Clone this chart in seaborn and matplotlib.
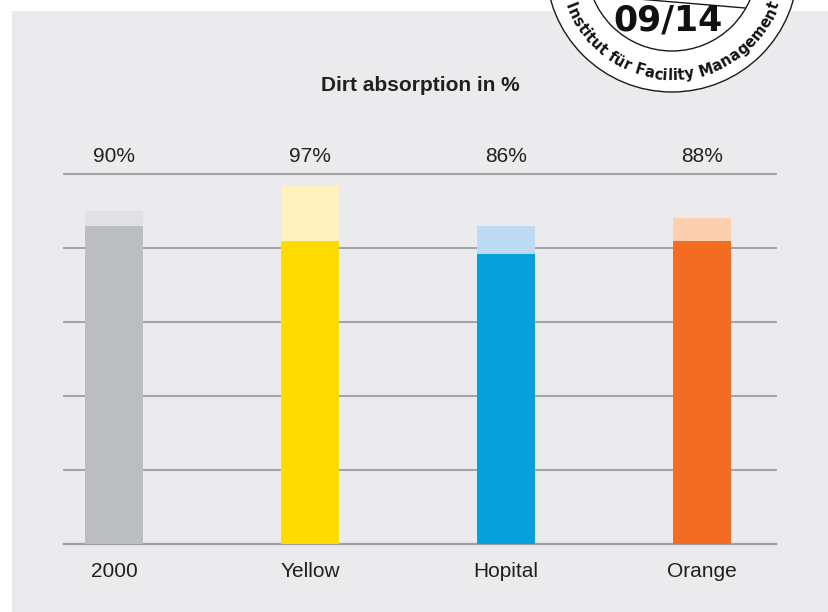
import numpy as np
import pandas as pd
import seaborn as sns
import matplotlib.pyplot as plt
from matplotlib.patches import Rectangle, Circle
from matplotlib.font_manager import FontProperties
from matplotlib.textpath import text_to_path

# data
categories = ["2000", "Yellow", "Hopital", "Orange"]
total_values = [90, 97, 86, 88]      # light part = labelled value
base_values = [86, 82, 78.5, 82]     # dark part of each bar
value_labels = ["90%", "97%", "86%", "88%"]

dark_colors = ["#bcbdc0", "#ffdc00", "#06a1dc", "#f46c22"]
light_colors = ["#e0e1e3", "#fff2c0", "#bddbf2", "#fccfae"]

df = pd.DataFrame({"Category": categories, "Total": total_values, "Base": base_values})

W, H = 829, 612
fig = plt.figure(figsize=(W / 100, H / 100), dpi=100)
fig.patch.set_facecolor("white")

# background layer in pixel coordinates: grey panel + stamp
bg = fig.add_axes([0, 0, 1, 1], zorder=0)
bg.set_xlim(0, W)
bg.set_ylim(H, 0)
bg.axis("off")
bg.add_patch(Rectangle((12, 11), W - 12, H - 11, color="#ebebed", lw=0))

cx, cy = 672, -34
bg.add_patch(Circle((cx, cy), 126, fc="white", ec="#1a1a1a", lw=1.0))
bg.add_patch(Circle((cx, cy), 85, fc="none", ec="#1a1a1a", lw=1.0))
bg.plot([620, 745], [-2.5, 8], color="#1a1a1a", lw=1.0)
bg.text(668, 21, "09/14", ha="center", va="center", fontsize=25,
        fontweight="bold", family="DejaVu Sans", color="#111111")

# arc text around the stamp
arc_text = "Institut für Facility Management"
fp = FontProperties(family="DejaVu Sans", weight="bold", size=10.5)
widths = [text_to_path.get_text_width_height_descent(ch, fp, ismath=False)[0] for ch in arc_text]
centers = np.cumsum(widths) - np.array(widths) / 2
t0, t1 = np.radians(-68.5), np.radians(69)
r_b = 114
for ch, c in zip(arc_text, centers):
    th = t0 + (c - centers[0]) / (centers[-1] - centers[0]) * (t1 - t0)
    bg.text(cx + r_b * np.sin(th), cy + r_b * np.cos(th), ch, fontproperties=fp,
            rotation=np.degrees(th), rotation_mode="anchor",
            ha="center", va="baseline", color="#111111")

# chart axes
ax = fig.add_axes([64 / W, 1 - 544 / H, (776 - 64) / W, (544 - 174) / H], zorder=1)
ax.patch.set_alpha(0)

sns.barplot(data=df, x="Category", y="Total", hue="Category", palette=light_colors,
            legend=False, width=0.296, errorbar=None, saturation=1, ax=ax)
sns.barplot(data=df, x="Category", y="Base", hue="Category", palette=dark_colors,
            legend=False, width=0.296, errorbar=None, saturation=1, ax=ax)

ax.set_xlim(-0.255, 3.378)
ax.set_ylim(0, 100)
ax.set_yticks([0, 20, 40, 60, 80, 100])
ax.set_yticklabels([])
ax.yaxis.grid(True, color="#a2a2a4", lw=1.4)
for gl in ax.get_ygridlines():
    gl.set_clip_on(False)
ax.set_axisbelow(True)
for s in ax.spines.values():
    s.set_visible(False)
ax.axhline(0, color="#8e8e90", lw=1.6, zorder=0.5, clip_on=False)
ax.tick_params(axis="both", length=0)
ax.tick_params(axis="x", pad=13, labelsize=15, labelcolor="#231f20")
for lbl in ax.get_xticklabels():
    lbl.set_family("Liberation Sans")
ax.set_xlabel("")
ax.set_ylabel("")

for i, lab in enumerate(value_labels):
    ax.annotate(lab, (i, 100), xytext=(0, 9), textcoords="offset points",
                ha="center", va="baseline", fontsize=15, color="#231f20",
                family="Liberation Sans", annotation_clip=False)

ax.text(0.5, 1 + 83 / 370, "Dirt absorption in %", transform=ax.transAxes,
        ha="center", va="baseline", fontsize=15, fontweight="bold",
        color="#231f20", family="Liberation Sans")

fig.savefig("out.png", dpi=100)
